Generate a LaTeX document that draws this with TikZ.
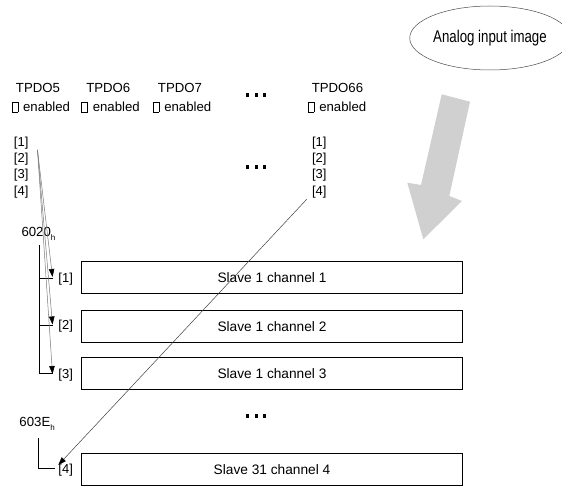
\documentclass[tikz,border=0pt]{standalone}
\usepackage{fontspec}
\setmainfont{Liberation Sans}
\usetikzlibrary{arrows.meta,shapes.geometric}

\definecolor{blockgray}{RGB}{208,208,208}
\definecolor{linkgray}{RGB}{120,120,120}

% small check box drawn as a framed strut
\newcommand{\chk}{{\setlength{\fboxsep}{0pt}\setlength{\fboxrule}{0.6pt}\fbox{\rule{0pt}{9.2pt}\hspace{5.4pt}}}}
% three square dots
\newcommand{\sqdots}{\rule{3.2pt}{3.2pt}\hspace{5.3pt}\rule{3.2pt}{3.2pt}\hspace{5.3pt}\rule{3.2pt}{3.2pt}}
\newcommand{\subh}{\raisebox{-3.5pt}{\fontsize{8}{8}\selectfont h}}

\tikzset{
  hd/.style={inner sep=0pt, anchor=base, font=\fontsize{13.2}{15}\selectfont},
  idx/.style={inner sep=0pt, font=\fontsize{13}{15}\selectfont},
  chan/.style={draw=black, line width=0.9pt, minimum width=380.6pt, minimum height=31.6pt,
               inner sep=0pt, font=\fontsize{13.7}{16}\selectfont},
  brk/.style={draw=black, line width=0.9pt},
  link/.style={draw=linkgray, line width=0.5pt, -{Triangle[length=8pt,width=5.5pt,color=black]}},
  linkdark/.style={draw=black!75, line width=0.5pt, -{Triangle[length=8pt,width=5.5pt,color=black]}},
  dotrow/.style={inner sep=0pt}
}

\begin{document}
\begin{tikzpicture}[x=1pt,y=-1pt]
\useasboundingbox (0,0) rectangle (562,486);

% source image bubble
\node[draw=black!70, line width=0.5pt, ellipse, minimum width=136pt, minimum height=64pt, inner sep=0pt]
  (img) at (490,38) {\scalebox{0.78}[1]{\fontsize{17}{20}\selectfont Analog input image}};

% big grey direction arrow
\fill[blockgray] (441.7,94.3) -- (470,101.7) -- (449.3,196) -- (462,201) -- (423.3,239.3)
  -- (407.3,182.7) -- (421,185) -- cycle;

% PDO headers
\node[hd] (t5)  at (38,92.3)    {TPDO5};
\node[hd] (t6)  at (108.3,92.3) {TPDO6};
\node[hd] (t7)  at (180,92.3)   {TPDO7};
\node[hd] (t66) at (337.5,92.3) {TPDO66};
\node[hd] (e5)  at (40.8,111.7)  {\chk\hspace{5pt}enabled};
\node[hd] (e6)  at (110.5,111.7) {\chk\hspace{5pt}enabled};
\node[hd] (e7)  at (182,111.7)   {\chk\hspace{5pt}enabled};
\node[hd] (e66) at (337,111.7)   {\chk\hspace{5pt}enabled};
\node[dotrow] (dtop) at (256.3,95) {\sqdots};

% mapping entries of TPDO5 and TPDO66
\node[idx] (a1) at (21.2,142.7) {[1]};
\node[idx] (a2) at (21.2,159.3) {[2]};
\node[idx] (a3) at (21.2,175)   {[3]};
\node[idx] (a4) at (21.2,191.7) {[4]};
\node[idx] (z1) at (319.3,142.7) {[1]};
\node[idx] (z2) at (319.3,159.3) {[2]};
\node[idx] (z3) at (319.3,175)   {[3]};
\node[idx] (z4) at (319.3,191.7) {[4]};
\node[dotrow] (dmid) at (256.3,167) {\sqdots};

% object indices
\node[hd, anchor=base west] (o6020) at (21.3,236.7) {6020\subh};
\node[hd, anchor=base west] (o603E) at (19.3,426.7) {603E\subh};

% channel boxes
\node[chan] (c1) at (272,277.5) {Slave 1 channel 1};
\node[chan] (c2) at (272,326.5) {Slave 1 channel 2};
\node[chan] (c3) at (272,373.3) {Slave 1 channel 3};
\node[dotrow] (dbot) at (256.3,416) {\sqdots};
\node[chan] (c4) at (272,469.2) {Slave 31 channel 4};

\node[idx] (s1) at (65.7,279.3) {[1]};
\node[idx] (s2) at (65.7,326)   {[2]};
\node[idx] (s3) at (65.7,375)   {[3]};
\node[idx] (s4) at (65.7,470)   {[4]};

% sub-index brackets
\coordinate (q1top) at (39,245.5);
\coordinate (q1a) at (39,278.3);
\coordinate (q1b) at (39,325.7);
\coordinate (q1c) at (39,373.3);
\coordinate (k1) at (53.3,278.3);
\coordinate (k2) at (53.3,325.7);
\coordinate (k3) at (53.3,373.3);
\draw[brk] (q1top) -- (q1c) -- (k3);
\draw[brk] (q1a) -- (k1);
\draw[brk] (q1b) -- (k2);

\coordinate (q2top) at (38.3,438.3);
\coordinate (q2c) at (38.3,468.3);
\coordinate (k4) at (55,468.3);
\draw[brk] (q2top) -- (q2c) -- (k4);

% mapping links
\coordinate (src5) at (37.5,150);
\coordinate (tip1) at (52.5,277);
\coordinate (tip2) at (52.5,324.5);
\coordinate (tip3) at (52.5,374);
\draw[link] (src5) -- (tip1);
\draw[link] (src5) -- (tip2);
\draw[link] (src5) -- (tip3);

\coordinate (src66) at (306.7,199.3);
\coordinate (tip4) at (58.3,465);
\draw[linkdark] (src66) -- (tip4);
\end{tikzpicture}
\end{document}
